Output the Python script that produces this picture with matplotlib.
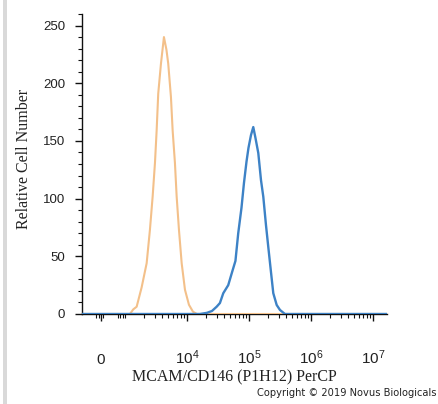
import numpy as np
import matplotlib
matplotlib.use("Agg")
import matplotlib.pyplot as plt
from matplotlib.patches import Rectangle
from matplotlib.ticker import FixedLocator

plt.rcParams['mathtext.fontset'] = 'custom'
plt.rcParams['mathtext.rm'] = 'Liberation Sans'
plt.rcParams['mathtext.it'] = 'Liberation Sans'

# ---- data ----
iso_x = [-790, 0, 600, 1117, 1205, 1362, 1545, 1858, 2240, 2530, 2800, 3050,
         3245, 3443, 3810, 4255, 4670, 4990, 5520, 5880, 6400, 6820, 7430,
         8220, 9290, 10770, 12500, 14500, 20000, 1.68e7]
iso_y = [0, 0, 0, 0, 0, 4, 6.3, 23, 44, 73, 102, 131, 159, 191, 217, 240, 229,
         217, 188, 159, 131, 102, 73, 44, 21, 8, 2, 0, 0, 0]

ab_x = [-790, 0, 1000, 10000, 16200, 21000, 25300, 30100, 34000, 38500, 46300,
        53200, 60500, 67100, 75700, 83000, 91200, 98200, 107700, 117300,
        127300, 141300, 156200, 170200, 188000, 204600, 226300, 246600,
        279800, 316000, 380000, 1e6, 1.68e7]
ab_y = [0, 0, 0, 0, 0, 1, 2.6, 6.3, 9.5, 18, 25, 36, 46, 70, 92, 113.5, 132,
        144, 155, 162, 152.5, 139.5, 116, 101.6, 77, 58.3, 36.4, 18, 7.8, 3.5,
        0, 0, 0]

x_major = [0, 1e4, 1e5, 1e6, 1e7]
x_major_labels = ['0', '$10^{4}$', '$10^{5}$', '$10^{6}$', '$10^{7}$']
y_major = [0, 50, 100, 150, 200, 250]

xlabel = 'MCAM/CD146 (P1H12) PerCP'
ylabel = 'Relative Cell Number'
copyright_text = 'Copyright \u00a9 2019 Novus Biologicals'

# ---- figure ----
fig = plt.figure(figsize=(4.39, 4.04), dpi=100)
fig.patch.set_facecolor('white')
ax = fig.add_axes([82/439, 1-314/404, 305/439, 300/404])

ax.plot(iso_x, iso_y, color='#F3C08A', lw=1.5, zorder=3,
        solid_joinstyle='round', solid_capstyle='round')
ax.plot(ab_x, ab_y, color='#3D82C6', lw=1.7, zorder=4,
        solid_joinstyle='round', solid_capstyle='round')

ax.set_xscale('symlog', linthresh=1000, linscale=0.348)
ax.set_xlim(-790, 1.68e7)
ax.set_ylim(0, 260)

for s in ['top', 'right']:
    ax.spines[s].set_visible(False)
for s in ['left', 'bottom']:
    ax.spines[s].set_linewidth(1.0)
    ax.spines[s].set_color('#111111')

ax.xaxis.set_major_locator(FixedLocator(x_major))
ax.set_xticks(x_major)
ax.set_xticklabels(x_major_labels)
minor = [-200, -100, 100, 700, 800, 900, 1000]
for k in range(3, 7):
    minor += [m * 10**k for m in range(2, 10)]
ax.xaxis.set_minor_locator(FixedLocator(minor))

ax.set_yticks(y_major)
ax.set_yticks(np.arange(0, 261, 10), minor=True)

ax.tick_params(axis='both', which='major', direction='out', length=5, width=1.0,
               color='#111111', labelcolor='#222222')
ax.tick_params(axis='both', which='minor', direction='out', length=3, width=0.8,
               color='#111111')
ax.tick_params(axis='y', which='major', pad=7, labelsize=9.5)
ax.tick_params(axis='x', which='major', pad=31, labelsize=11)
for lab in ax.get_xticklabels() + ax.get_yticklabels():
    lab.set_family('Liberation Sans')
for lab in ax.get_xticklabels():
    lab.set_verticalalignment('baseline')

ax.set_xlabel(xlabel, family='Liberation Serif', fontsize=11.5, color='#222222')
ax.xaxis.set_label_coords(0.5, -0.21)
ax.xaxis.label.set_verticalalignment('center')
ax.set_ylabel(ylabel, family='Liberation Serif', fontsize=11.5, color='#222222')
ax.yaxis.set_label_coords(-0.19, 0.517)
ax.yaxis.label.set_verticalalignment('center')

fig.text(257/439, 1-393/404, copyright_text, family='DejaVu Sans', fontsize=7.1,
         color='#222222', va='center', ha='left')

fig.patches.append(Rectangle((3/439, 0), 4/439, 1, transform=fig.transFigure,
                             facecolor='#d9d9d9', edgecolor='none'))

fig.savefig('out.png', dpi=100)
